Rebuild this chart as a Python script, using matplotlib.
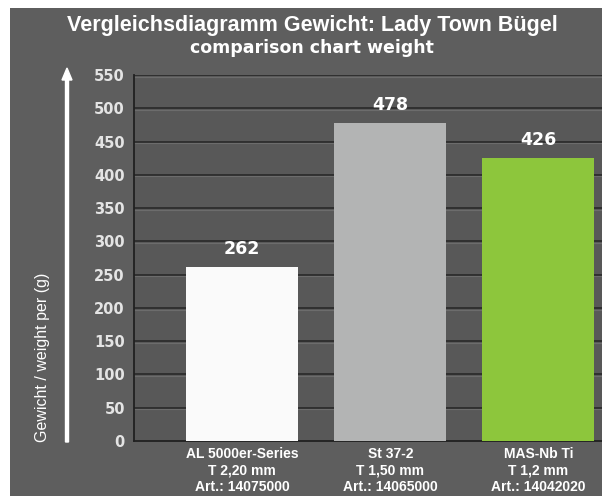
import matplotlib
matplotlib.use("Agg")
import matplotlib.pyplot as plt
from matplotlib.patches import FancyArrow
from matplotlib import font_manager

categories = ["AL 5000er-Series\nT 2,20 mm\nArt.: 14075000",
              "St 37-2\nT 1,50 mm\nArt.: 14065000",
              "MAS-Nb Ti\nT 1,2 mm\nArt.: 14042020"]
weights = [262, 478, 426]
bar_colors = ["#fafafa", "#b3b4b4", "#8dc63c"]
yticks = [0, 50, 100, 150, 200, 250, 300, 350, 400, 450, 500, 550]
title = "Vergleichsdiagramm Gewicht: Lady Town Bügel"
subtitle = "comparison chart weight"
ylabel = "Gewicht / weight per (g)"

names = {f.name for f in font_manager.fontManager.ttflist}
narrow = "Liberation Sans Narrow" if "Liberation Sans Narrow" in names else "Liberation Sans"

W, H = 602, 496
fig = plt.figure(figsize=(W / 100, H / 100), dpi=100, facecolor="white")
bg = fig.add_axes([10 / W, 0, 1 - 10 / W, 1 - 8 / H], zorder=-5)
bg.set_facecolor("#5e5e5e")
bg.set_xticks([]); bg.set_yticks([])
for s in bg.spines.values():
    s.set_visible(False)

ax = fig.add_axes([134 / W, 1 - 441 / H, 1 - 134 / W, (441 - 75) / H], zorder=1)
ax.set_facecolor("#585858")
ax.set_xlim(-0.73, 2.43)
ax.set_ylim(0, 550)

for t in yticks[1:]:
    ax.axhline(t, color="#2f2f2f", lw=1.4, zorder=1)
    ax.axhline(t - 2.4, color="#6c6c6c", lw=0.8, zorder=1)

x = list(range(len(weights)))
ax.bar(x, weights, width=0.757, color=bar_colors, zorder=3)
for xi, v in zip(x, weights):
    ax.text(xi, v + 13, str(v), ha="center", va="bottom", color="white",
            fontsize=12.5, fontweight="bold", family="DejaVu Sans", zorder=4)

for s in ["top", "right"]:
    ax.spines[s].set_visible(False)
ax.spines["left"].set_color("#202020")
ax.spines["bottom"].set_color("#202020")
ax.spines["left"].set_linewidth(1.3)
ax.spines["bottom"].set_linewidth(1.3)

ax.set_yticks(yticks)
ax.set_yticklabels([str(t) for t in yticks], color="#e4e4e4", fontsize=10.5,
                   fontweight="bold", family="DejaVu Sans")
ax.tick_params(axis="y", length=0, pad=6.5)
ax.set_xticks(x)
ax.set_xticklabels(categories, color="white", fontsize=10, fontweight="bold",
                   family=narrow, linespacing=1.25)
ax.tick_params(axis="x", length=0, pad=4)

fig.text(312 / W, 1 - 26 / H, title, ha="center", va="center", color="white",
         fontsize=15.5, fontweight="bold", family=narrow)
fig.text(312 / W, 1 - 48 / H, subtitle, ha="center", va="center", color="white",
         fontsize=12.5, fontweight="bold", family="DejaVu Sans")

# white arrow
fig.patches.append(FancyArrow(67 / W, 1 - 442 / H, 0, (442 - 68) / H, width=3 / W,
                              head_width=10 / W, head_length=12 / H,
                              length_includes_head=True, transform=fig.transFigure,
                              color="white", zorder=5))
fig.text(43 / W, 1 - 442 / H, ylabel, rotation=90, ha="center", va="bottom",
         color="white", fontsize=11.5, family=narrow)

fig.savefig("out.png", dpi=100, facecolor="white")
